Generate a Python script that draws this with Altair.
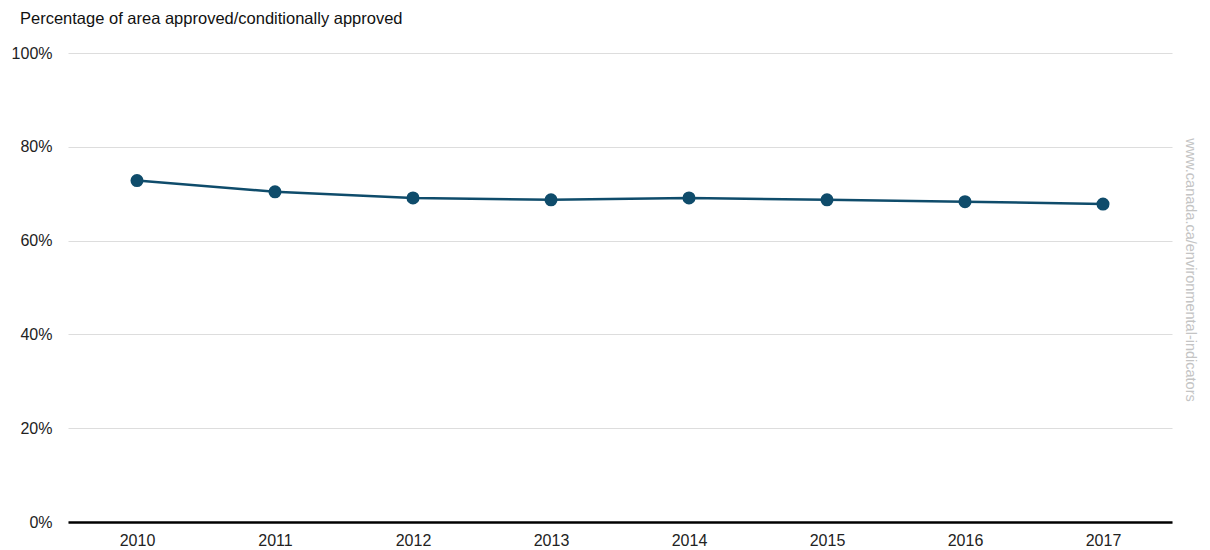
import altair as alt
import pandas as pd

years = ["2010", "2011", "2012", "2013", "2014", "2015", "2016", "2017"]
values = [72.8, 70.4, 69.1, 68.7, 69.1, 68.7, 68.3, 67.8]
title_text = "Percentage of area approved/conditionally approved"
watermark = "www.canada.ca/environmental-indicators"

df = pd.DataFrame({"year": years, "value": [v / 100 for v in values]})

FONT = "Liberation Sans"
COLOR = "#0f4c6b"

x = alt.X("year:N", sort=years, title=None,
          scale=alt.Scale(type="point", padding=0.5),
          axis=alt.Axis(labelAngle=0, ticks=False, domain=True, domainColor="#000000",
                        domainWidth=2.5, labelFontSize=16, labelColor="#222222",
                        labelPadding=10, labelFont=FONT, grid=False))
y = alt.Y("value:Q", title=None,
          scale=alt.Scale(domain=[0, 1], nice=False),
          axis=alt.Axis(format=".0%", values=[0, 0.2, 0.4, 0.6, 0.8, 1.0], ticks=False,
                        domain=False, gridColor="#dddddd", gridWidth=1,
                        labelFontSize=16, labelColor="#222222", labelPadding=16,
                        labelFont=FONT))

line = alt.Chart(df).mark_line(color=COLOR, strokeWidth=2.5).encode(x=x, y=y)
pts = alt.Chart(df).mark_circle(color=COLOR, size=170, opacity=1).encode(x=x, y=y)

wm = alt.Chart(pd.DataFrame({"t": [watermark]})).mark_text(
    angle=90, fontSize=14.5, color="#c4c4c4", font=FONT, align="center", baseline="middle"
).encode(text="t:N", x=alt.value(1122), y=alt.value(217))

ttl = alt.Chart(pd.DataFrame({"t": [title_text]})).mark_text(
    fontSize=16.5, color="#111111", font=FONT, align="left", baseline="middle"
).encode(text="t:N", x=alt.value(-48), y=alt.value(-34))

chart = alt.layer(line, pts, wm, ttl).properties(
    width=1104, height=469,
    autosize=alt.AutoSizeParams(type="none"),
    padding={"left": 60, "top": 45, "right": 30, "bottom": 28},
).configure_view(stroke=None)

chart.save("out.html", embed_options={"renderer": "svg", "actions": False})
